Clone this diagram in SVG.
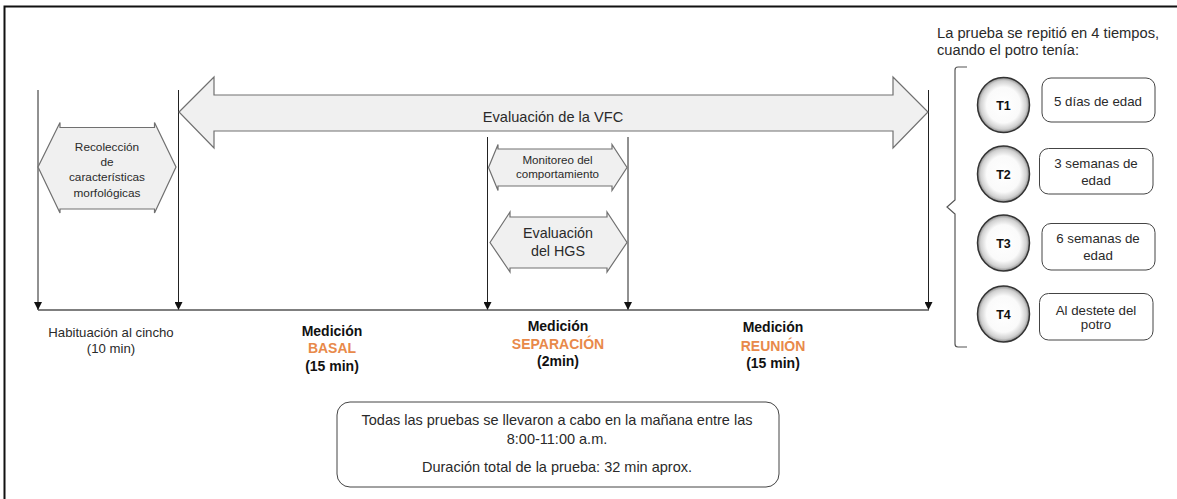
<svg xmlns="http://www.w3.org/2000/svg" width="1177" height="499" viewBox="0 0 1177 499">
<defs>
<style>
.t{font-family:"Liberation Sans",Arial,sans-serif;fill:#2a2a2a;text-anchor:middle}
.b{font-family:"Liberation Sans",Arial,sans-serif;font-weight:bold;fill:#111;text-anchor:middle}
.o{fill:#E8894A}
.shape{fill:#f0f0f0;stroke:#707070;stroke-width:1.2}
.vl{stroke:#222;stroke-width:1;fill:none}
.box{fill:#fff;stroke:#444;stroke-width:1}
.circ{fill:url(#cg);stroke:#333;stroke-width:1.5}
</style>
<radialGradient id="cg" cx="50%" cy="50%" r="50%">
<stop offset="0" stop-color="#ffffff"/>
<stop offset="0.65" stop-color="#fafafa"/>
<stop offset="0.88" stop-color="#d0d0d0"/>
<stop offset="1" stop-color="#8a8a8a"/>
</radialGradient>
<marker id="ah" viewBox="0 0 8 8" refX="8" refY="4" markerWidth="8" markerHeight="8" markerUnits="userSpaceOnUse" orient="auto">
<path d="M0,0 L8,4 L0,8 Z" fill="#111"/>
</marker>
</defs>
<rect width="1177" height="499" fill="#fff"/>
<path d="M4.5,499 V6.5 H1177" fill="none" stroke="#111" stroke-width="2"/>

<g id="connectors">
<line class="vl" x1="38" y1="90" x2="38" y2="310" marker-end="url(#ah)"/>
<line class="vl" x1="178.5" y1="90" x2="178.5" y2="310" marker-end="url(#ah)"/>
<line class="vl" x1="487.5" y1="137" x2="487.5" y2="310" marker-end="url(#ah)"/>
<line class="vl" x1="628" y1="137" x2="628" y2="310" marker-end="url(#ah)"/>
<line class="vl" x1="928.5" y1="90" x2="928.5" y2="310" marker-end="url(#ah)"/>
<line x1="38" y1="310" x2="929" y2="310" stroke="#555" stroke-width="1.3"/>
</g>

<g id="vfc">
<path class="shape" d="M179,112 L214,77 L214,95 L893,95 L893,77 L928,112 L893,148 L893,131 L214,131 L214,148 Z"/>
<text class="t" x="553" y="122" font-size="14.6">Evaluación de la VFC</text>
</g>

<g id="recoleccion">
<path class="shape" d="M38,167 L60,122.5 L60,127.5 L154.5,127.5 L154.5,122.5 L176,167 L154.5,213 L154.5,209 L60,209 L60,213 Z"/>
<text class="t" x="107" y="150.5" font-size="11.8">Recolección</text>
<text class="t" x="107" y="165.8" font-size="11.8">de</text>
<text class="t" x="107" y="181" font-size="11.8">características</text>
<text class="t" x="107" y="196.5" font-size="11.8">morfológicas</text>
</g>

<g id="monitoreo">
<path class="shape" d="M488.5,167.5 L498,144.5 L498,149 L612,149 L612,144.5 L627,167.5 L612,190.5 L612,186 L498,186 L498,190.5 Z"/>
<text class="t" x="557.5" y="163.5" font-size="11.6">Monitoreo  del</text>
<text class="t" x="557.5" y="177.5" font-size="11.6">comportamiento</text>
</g>

<g id="hgs">
<path class="shape" d="M490,242.5 L510,212 L510,217 L607,217 L607,212 L627,242.5 L607,272 L607,268 L510,268 L510,272 Z"/>
<text class="t" x="558" y="238" font-size="14.3">Evaluación</text>
<text class="t" x="558" y="255.5" font-size="14.3">del HGS</text>
</g>

<g id="habituacion">
<text class="t" x="111" y="336.5" font-size="13.2">Habituación  al cincho</text>
<text class="t" x="111" y="353" font-size="13.2">(10 min)</text>
</g>

<g id="basal">
<text class="b" x="332" y="335.5" font-size="14">Medición</text>
<text class="b o" x="332" y="353.3" font-size="14">BASAL</text>
<text class="b" x="332" y="370.5" font-size="14">(15 min)</text>
</g>

<g id="separacion">
<text class="b" x="558" y="331" font-size="14">Medición</text>
<text class="b o" x="558" y="348.5" font-size="14">SEPARACIÓN</text>
<text class="b" x="558" y="366" font-size="14">(2min)</text>
</g>

<g id="reunion">
<text class="b" x="773" y="332" font-size="14">Medición</text>
<text class="b o" x="773" y="351" font-size="14">REUNIÓN</text>
<text class="b" x="773" y="368" font-size="14">(15 min)</text>
</g>

<g id="nota">
<rect class="box" x="337" y="402" width="442" height="85" rx="13"/>
<text class="t" x="557" y="425" font-size="14.5">Todas las pruebas se llevaron a cabo en la mañana entre las</text>
<text class="t" x="557" y="444" font-size="14.5">8:00-11:00 a.m.</text>
<text class="t" x="557" y="472" font-size="14.5">Duración total de la prueba: 32 min aprox.</text>
</g>

<g id="tiempos-titulo">
<text class="t" x="937" y="38" font-size="14.7" style="text-anchor:start">La prueba se repitió en 4 tiempos,</text>
<text class="t" x="937" y="54.5" font-size="14.7" style="text-anchor:start">cuando el potro tenía:</text>
<path d="M967,67 L958,67 Q955,67 955,70 V200 L947,207 L955,214 V344 Q955,347 958,347 L967,347" fill="none" stroke="#555" stroke-width="1.2"/>
</g>

<g id="t1">
<ellipse class="circ" cx="1003.5" cy="105" rx="26" ry="27.5"/>
<text class="b" x="1003.5" y="109.5" font-size="12.5">T1</text>
<rect class="box" x="1042" y="78" width="113" height="44" rx="9"/>
<text class="t" x="1098" y="106" font-size="13.3">5 días de edad</text>
</g>

<g id="t2">
<ellipse class="circ" cx="1003.5" cy="174" rx="26" ry="28"/>
<text class="b" x="1003.5" y="178.5" font-size="12.5">T2</text>
<rect class="box" x="1039.5" y="148.5" width="113.5" height="45.5" rx="9"/>
<text class="t" x="1096" y="168" font-size="13.3">3 semanas de</text>
<text class="t" x="1096" y="184.5" font-size="13.3">edad</text>
</g>

<g id="t3">
<ellipse class="circ" cx="1003.5" cy="243" rx="26" ry="28"/>
<text class="b" x="1003.5" y="247.5" font-size="12.5">T3</text>
<rect class="box" x="1042" y="223.5" width="113" height="46.5" rx="9"/>
<text class="t" x="1098" y="243" font-size="13.3">6 semanas de</text>
<text class="t" x="1098" y="260" font-size="13.3">edad</text>
</g>

<g id="t4">
<ellipse class="circ" cx="1003.5" cy="314" rx="26" ry="28"/>
<text class="b" x="1003.5" y="318.5" font-size="12.5">T4</text>
<rect class="box" x="1039.5" y="293.5" width="113.5" height="46.5" rx="9"/>
<text class="t" x="1096" y="315" font-size="13.3">Al destete del</text>
<text class="t" x="1096" y="328.5" font-size="13.3">potro</text>
</g>
</svg>
